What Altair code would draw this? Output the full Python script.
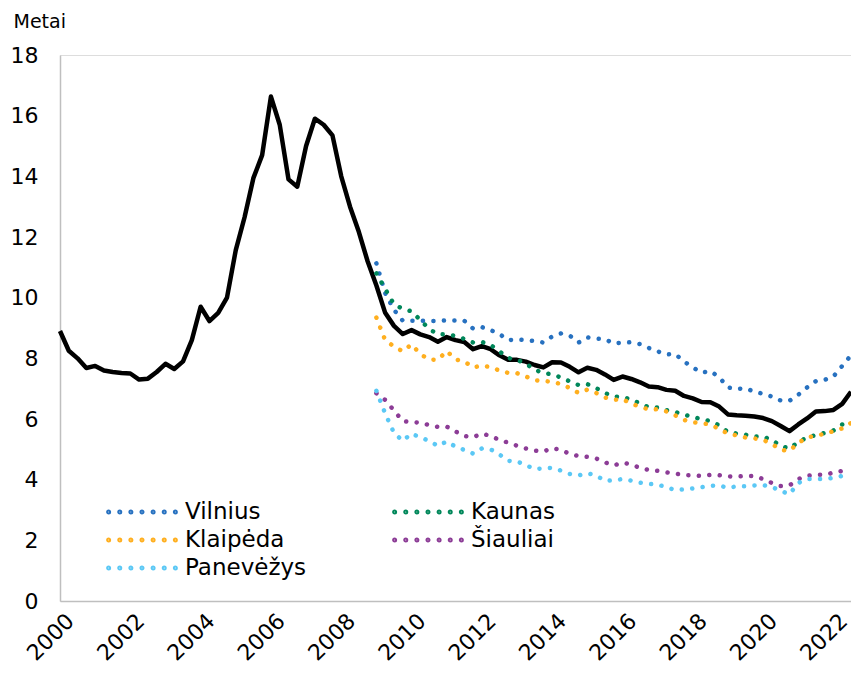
import altair as alt
import pandas as pd

# ---- data (quarterly, 2000Q1 .. 2022Q3) ----
start_year = 2000
lietuva = [8.9, 8.25, 8.0, 7.68, 7.75, 7.6, 7.55, 7.52, 7.5, 7.3,
           7.33, 7.55, 7.82, 7.65, 7.9, 8.6, 9.7, 9.23, 9.5, 10.0,
           11.57, 12.65, 13.94, 14.7, 16.63, 15.7, 13.9, 13.66, 15.0, 15.9,
           15.7, 15.35, 14.0, 13.0, 12.17, 11.2, 10.4, 9.5, 9.07, 8.8,
           8.93, 8.79, 8.7, 8.55, 8.7, 8.6, 8.54, 8.3, 8.4, 8.3,
           8.1, 7.95, 7.95, 7.89, 7.78, 7.7, 7.87, 7.86, 7.72, 7.54,
           7.69, 7.62, 7.47, 7.29, 7.4, 7.32, 7.21, 7.07, 7.05, 6.96,
           6.93, 6.76, 6.68, 6.56, 6.55, 6.41, 6.15, 6.12, 6.11, 6.08,
           6.03, 5.93, 5.77, 5.6, 5.82, 6.02, 6.25, 6.26, 6.3, 6.5, 6.9]

regional_start = 36  # 2009Q1
vilnius = [11.13, 10.15, 9.6, 9.24, 9.24, 9.24, 9.23, 9.23, 9.25, 9.25,
           9.24, 8.98, 9.03, 8.93, 8.8, 8.6, 8.62, 8.6, 8.57, 8.52,
           8.72, 8.82, 8.75, 8.52, 8.69, 8.65, 8.63, 8.49, 8.52, 8.53,
           8.47, 8.34, 8.23, 8.13, 8.14, 7.9, 7.7, 7.53, 7.58, 7.38,
           7.04, 6.99, 7.01, 6.9, 6.83, 6.74, 6.61, 6.6, 6.8, 7.04,
           7.25, 7.29, 7.4, 7.75, 8.1]
kaunas = [10.8, 10.29, 9.78, 9.63, 9.55, 9.26, 8.97, 8.79, 8.79, 8.74,
          8.64, 8.52, 8.54, 8.44, 8.23, 8.01, 7.95, 7.83, 7.62, 7.52,
          7.47, 7.37, 7.24, 7.12, 7.15, 7.02, 6.86, 6.74, 6.73, 6.64,
          6.51, 6.39, 6.38, 6.29, 6.23, 6.14, 6.07, 5.99, 5.93, 5.79,
          5.57, 5.52, 5.48, 5.42, 5.42, 5.31, 5.11, 5.03, 5.24, 5.39,
          5.47, 5.54, 5.62, 5.82, 5.87]
klaipeda = [9.34, 8.6, 8.39, 8.23, 8.46, 8.14, 7.96, 7.95, 8.24, 7.96,
            7.9, 7.7, 7.76, 7.71, 7.6, 7.52, 7.51, 7.4, 7.28, 7.25,
            7.23, 7.15, 7.02, 6.86, 6.97, 6.86, 6.71, 6.63, 6.66, 6.5,
            6.41, 6.31, 6.32, 6.25, 6.12, 5.97, 5.89, 5.86, 5.82, 5.67,
            5.52, 5.46, 5.39, 5.36, 5.31, 5.18, 4.98, 4.95, 5.21, 5.39,
            5.45, 5.51, 5.6, 5.69, 5.87]
siauliai = [6.85, 6.63, 6.28, 5.93, 5.9, 5.88, 5.8, 5.74, 5.75, 5.59,
            5.44, 5.4, 5.52, 5.44, 5.31, 5.22, 5.12, 5.03, 4.96, 4.93,
            5.04, 4.98, 4.85, 4.78, 4.75, 4.7, 4.57, 4.47, 4.56, 4.5,
            4.39, 4.32, 4.29, 4.24, 4.2, 4.15, 4.14, 4.12, 4.16, 4.15,
            4.11, 4.1, 4.12, 4.12, 4.02, 3.89, 3.79, 3.81, 4.02, 4.13,
            4.16, 4.16, 4.23, 4.29, 4.32]
panevezys = [6.93, 6.18, 5.54, 5.28, 5.52, 5.39, 5.28, 5.11, 5.26, 5.09,
             4.98, 4.86, 5.03, 5.0, 4.83, 4.62, 4.6, 4.48, 4.35, 4.37,
             4.39, 4.3, 4.19, 4.14, 4.21, 4.14, 3.96, 3.98, 4.02, 3.97,
             3.9, 3.86, 3.84, 3.75, 3.66, 3.68, 3.71, 3.75, 3.8, 3.81,
             3.73, 3.78, 3.78, 3.81, 3.82, 3.76, 3.63, 3.52, 3.89, 4.02,
             4.02, 4.02, 4.06, 4.12, 4.18]

names = ["Vilnius", "Kaunas", "Klaipėda", "Šiauliai", "Panevėžys"]
colors = ["#2771C0", "#00875A", "#FFAF1F", "#8C3C96", "#5BC8F5"]
series = [vilnius, kaunas, klaipeda, siauliai, panevezys]
year_ticks = list(range(2000, 2023, 2))
y_ticks = list(range(0, 19, 2))

nat = pd.DataFrame({"t": [start_year + i / 4 for i in range(len(lietuva))],
                    "v": lietuva})
rows = []
for name, vals in zip(names, series):
    for k, v in enumerate(vals):
        rows.append({"t": start_year + (regional_start + k) / 4, "v": v, "s": name})
reg = pd.DataFrame(rows)

FONT = "DejaVu Sans"

# legend symbol: a row of small dots (custom symbol path)
r = 0.029
parts = []
for k in range(7):
    c = -0.967 + k * 0.3223
    parts.append(f"M{c - r:.4f},0A{r},{r} 0 1,0 {c + r:.4f},0A{r},{r} 0 1,0 {c - r:.4f},0Z")
dot_path = "".join(parts)

x = alt.X("t:Q",
          scale=alt.Scale(domain=[2000, 2022.5], nice=False, zero=False),
          axis=alt.Axis(values=year_ticks, format="d", labelAngle=-45, ticks=False,
                        grid=False, title=None, labelFontSize=22, labelFont=FONT,
                        labelColor="#000000", labelPadding=9, labelOffset=3,
                        domainColor="#BFBFBF", domainWidth=1.5, labelOverlap=False))
y = alt.Y("v:Q",
          scale=alt.Scale(domain=[0, 18], nice=False),
          axis=alt.Axis(values=y_ticks, ticks=False, grid=False, title="Metai",
                        titleAngle=0, titleAlign="left", titleBaseline="middle",
                        titleX=-47, titleY=-34, titleFontSize=19, titleFont=FONT,
                        titleFontWeight="normal", titleColor="#000000",
                        labelFontSize=22, labelFont=FONT, labelColor="#000000",
                        labelPadding=22, domainColor="#BFBFBF", domainWidth=1.5))

black = alt.Chart(nat).mark_line(color="black", strokeJoin="round").encode(
    x=x, y=y, strokeWidth=alt.value(4.5))

regional = alt.Chart(reg).mark_line(strokeCap="round", strokeJoin="round").encode(
    x=x, y=y,
    color=alt.Color("s:N", sort=names,
                    scale=alt.Scale(domain=names, range=colors),
                    legend=alt.Legend(orient="none", legendX=46, legendY=445,
                                      direction="horizontal",
                                      columns=2, title=None, symbolType=dot_path,
                                      symbolSize=4761, symbolStrokeWidth=3,
                                      clipHeight=24, labelOffset=7,
                                      labelFontSize=23, labelFont=FONT,
                                      labelColor="#000000", columnPadding=85,
                                      rowPadding=4, padding=0)),
    strokeDash=alt.value([0.1, 10.4]),
    strokeWidth=alt.value(4.5),
)

chart = alt.layer(black, regional).properties(
    width=791, height=546,
    autosize=alt.AutoSizeParams(type="none"),
    padding={"left": 52, "top": 47, "right": 0, "bottom": 64},
).configure_view(stroke=None).configure(background="white")

chart.save("out.html", embed_options={"renderer": "svg", "actions": False})
